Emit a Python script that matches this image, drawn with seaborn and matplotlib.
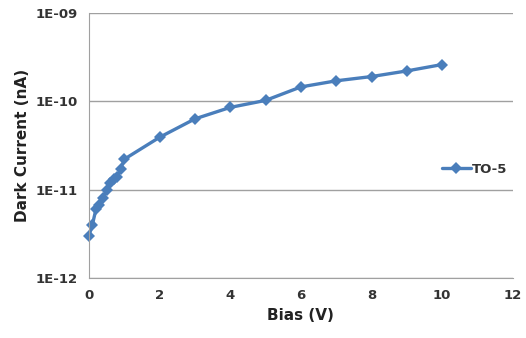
import seaborn as sns
import matplotlib.pyplot as plt
import pandas as pd
import math
from matplotlib.ticker import FixedLocator, FuncFormatter

bias = [0, 0.1, 0.2, 0.3, 0.4, 0.5, 0.6, 0.7, 0.8, 0.9, 1, 2, 3, 4, 5, 6, 7, 8, 9, 10]
current = [3.0e-12, 4.0e-12, 6.0e-12, 6.7e-12, 8.0e-12, 1.0e-11, 1.2e-11, 1.3e-11,
           1.4e-11, 1.7e-11, 2.2e-11, 3.9e-11, 6.3e-11, 8.5e-11, 1.02e-10,
           1.45e-10, 1.7e-10, 1.9e-10, 2.2e-10, 2.6e-10]
series = 'TO-5'

df = pd.DataFrame({'Bias': bias, 'Current': current, 'Series': series})

sns.set_style('white')
plt.rcParams['font.family'] = ['DejaVu Sans']

fig, ax = plt.subplots(figsize=(5.26, 3.38), dpi=100)
fig.subplots_adjust(left=0.169, right=0.975, top=0.962, bottom=0.178)

sns.lineplot(data=df, x='Bias', y='Current', hue='Series', palette=['#4a7ebb'],
             marker='D', markersize=6.5, markeredgewidth=0, linewidth=2.4,
             clip_on=False, ax=ax)

ax.set_yscale('log')
ax.set_ylim(1e-12, 1e-9)
ax.set_xlim(0, 12)
ax.yaxis.set_major_locator(FixedLocator([1e-12, 1e-11, 1e-10, 1e-9]))
ax.yaxis.set_minor_locator(FixedLocator([]))
ax.yaxis.set_major_formatter(FuncFormatter(lambda v, p: '1E-%02d' % round(-math.log10(v))))
ax.set_xticks(range(0, 13, 2))

ax.grid(axis='y', color='#a0a0a0', linewidth=1)
for s in ['top', 'right']:
    ax.spines[s].set_visible(False)
ax.spines['left'].set_color('#a0a0a0')
ax.spines['bottom'].set_color('#a0a0a0')
ax.tick_params(axis='both', length=0, labelsize=9.5, pad=8)
for lab in ax.get_xticklabels() + ax.get_yticklabels():
    lab.set_fontweight('bold')
    lab.set_color('#333333')

ax.set_xlabel('Bias (V)', fontsize=11, fontweight='bold', color='#222222')
ax.set_ylabel('Dark Current (nA)', fontsize=11, fontweight='bold', color='#222222')

leg = ax.legend(loc='center right', bbox_to_anchor=(1.0, 0.41), frameon=False,
                fontsize=9.5, handlelength=2.2, handletextpad=0.1, borderaxespad=0)
for t in leg.get_texts():
    t.set_fontweight('bold')
    t.set_color('#333333')

plt.savefig('out.png', dpi=100)
